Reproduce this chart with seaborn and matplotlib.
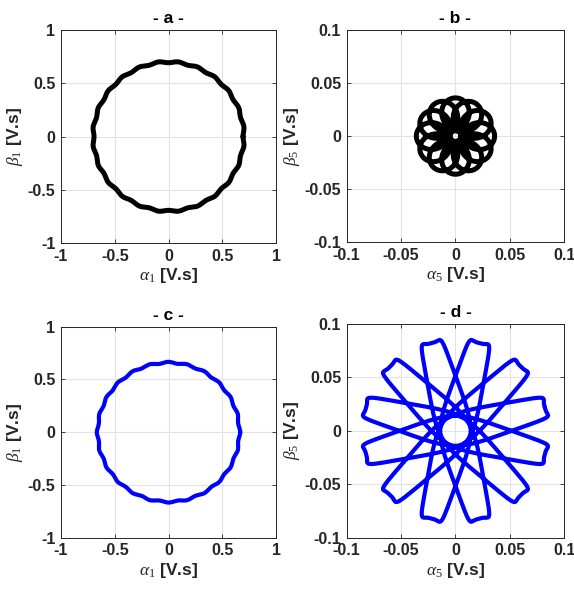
import numpy as np
import pandas as pd
import matplotlib
matplotlib.use("Agg")
import matplotlib.pyplot as plt
import seaborn as sns

# Flux trajectories, stored as rotating-vector (harmonic) content:
# harmonic order k -> amplitude [V.s]; trajectory = sum of amp * exp(j*k*wt)
a_orders = [1, -23, 25]
a_amps = [0.70, -0.0035, -0.0035]

b_orders = [1, -11]
b_amps = [0.0205, 0.0155]

c_orders = [1, -23, 25]
c_amps = [0.66, 0.0035, 0.0035]

d_orders = [5, -7, 17, -19, 29, -31, 41, -43]
d_amps = [0.04582, 0.05198, -0.00312, -0.00774, -0.00318, -0.00072, 0.00137, 0.00063]
d_rotation_deg = 15

panel_titles = ['- a -', '- b -', '- c -', '- d -']
ticks_1 = [-1, -0.5, 0, 0.5, 1]
ticks_5 = [-0.1, -0.05, 0, 0.05, 0.1]
tick_labels_1 = ['-1', '-0.5', '0', '0.5', '1']
tick_labels_5 = ['-0.1', '-0.05', '0', '0.05', '0.1']


def trajectory(orders, amps, rot_deg=0, n=8000):
    wt = np.linspace(0, 2 * np.pi, n)
    z = np.zeros_like(wt, dtype=complex)
    for k, a in zip(orders, amps):
        z += a * np.exp(1j * k * wt)
    z *= np.exp(1j * np.deg2rad(rot_deg))
    return pd.DataFrame({'alpha': z.real, 'beta': z.imag})


sns.set_theme(style='whitegrid')
plt.rcParams['font.family'] = ['Liberation Sans', 'DejaVu Sans']
plt.rcParams['mathtext.fontset'] = 'custom'
plt.rcParams['mathtext.rm'] = 'Liberation Serif'
plt.rcParams['mathtext.it'] = 'Liberation Serif:italic'

fig = plt.figure(figsize=(5.74, 5.89), dpi=100)
positions = [
    [0.1063, 0.5874, 0.3746, 0.3616],
    [0.6040, 0.5890, 0.3790, 0.3600],
    [0.1063, 0.0871, 0.3746, 0.3582],
    [0.6040, 0.0871, 0.3790, 0.3628],
]
panels = [
    (trajectory(a_orders, a_amps), 'black', 3.6, ticks_1, tick_labels_1, '1'),
    (trajectory(b_orders, b_amps), 'black', 3.6, ticks_5, tick_labels_5, '5'),
    (trajectory(c_orders, c_amps), '#0000ff', 3.0, ticks_1, tick_labels_1, '1'),
    (trajectory(d_orders, d_amps, d_rotation_deg), '#0000ff', 3.0, ticks_5, tick_labels_5, '5'),
]

txt = '#262626'
for pos, title, (df, color, lw, ticks, tlabels, h) in zip(positions, panel_titles, panels):
    ax = fig.add_axes(pos)
    sns.lineplot(data=df, x='alpha', y='beta', sort=False, estimator=None,
                 color=color, linewidth=lw, ax=ax)
    lim = ticks[-1]
    ax.set_xlim(-lim, lim)
    ax.set_ylim(-lim, lim)
    ax.set_xticks(ticks)
    ax.set_yticks(ticks)
    ax.set_xticklabels(tlabels, fontsize=11.5, fontweight='bold', color=txt)
    ax.set_yticklabels(tlabels, fontsize=11.5, fontweight='bold', color=txt)
    ax.tick_params(axis='both', direction='in', length=3, width=0.6, pad=4,
                   color=txt, bottom=True, left=True, top=True, right=True)
    ax.grid(True, color='#e3e3e3', linewidth=0.8)
    for s in ax.spines.values():
        s.set_color(txt)
        s.set_linewidth(0.7)
    ax.set_xlabel(r'$\alpha_{%s}$ [V.s]' % h, fontsize=12.5, fontweight='bold',
                  color=txt, labelpad=2)
    ax.set_ylabel(r'$\beta_{%s}$ [V.s]' % h, fontsize=12.5, fontweight='bold',
                  color=txt, labelpad=2)
    ax.set_title(title, fontsize=12.5, fontweight='bold', color='black', pad=5)

fig.savefig('out.png', dpi=100)
